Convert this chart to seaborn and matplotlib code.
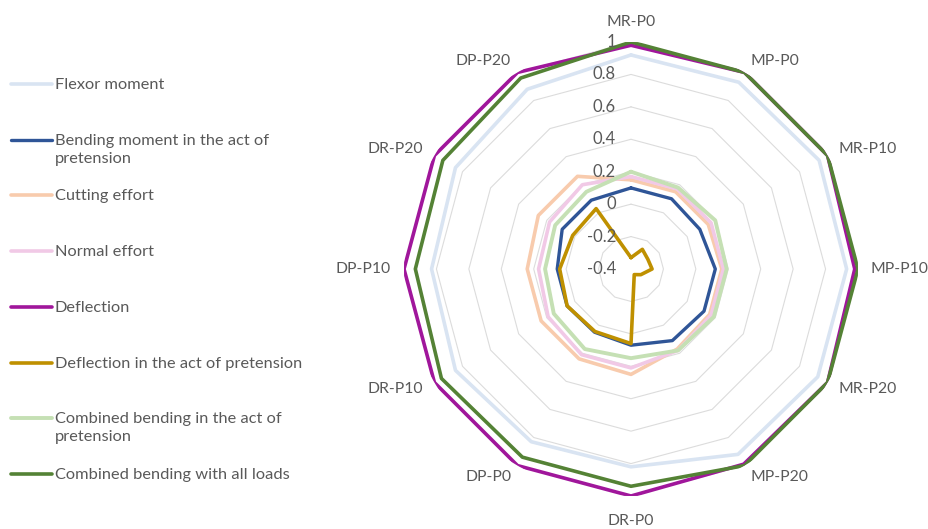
import numpy as np
import pandas as pd
import seaborn as sns
import matplotlib
matplotlib.use("Agg")
import matplotlib.pyplot as plt
from matplotlib.transforms import offset_copy

# Load-case spokes, clockwise from the top
categories = ["MR-P0", "MP-P0", "MR-P10", "MP-P10", "MR-P20", "MP-P20",
              "DR-P0", "DP-P0", "DR-P10", "DP-P10", "DR-P20", "DP-P20"]

# Normalised results per load case
flexor_moment = [0.92, 0.93, 0.94, 0.93, 0.93, 0.92, 0.82, 0.83, 0.85, 0.83, 0.85, 0.88]
bending_pretension = [0.10, 0.10, 0.09, 0.12, 0.12, 0.11, 0.07, 0.05, 0.055, 0.055, 0.09, 0.09]
cutting_effort = [0.15, 0.15, 0.15, 0.16, 0.16, 0.17, 0.25, 0.24, 0.24, 0.24, 0.26, 0.26]
normal_effort = [0.17, 0.17, 0.17, 0.17, 0.17, 0.18, 0.21, 0.21, 0.19, 0.17, 0.18, 0.20]
deflection = [0.98, 1.0, 1.0, 0.98, 1.0, 0.99, 1.0, 1.0, 1.0, 1.0, 1.0, 1.0]
deflection_pretension = [-0.33, -0.26, -0.28, -0.27, -0.33, -0.36, 0.06, 0.045, 0.055, 0.04, 0.015, 0.03]
combined_pretension = [0.20, 0.18, 0.20, 0.19, 0.19, 0.18, 0.15, 0.17, 0.15, 0.13, 0.14, 0.15]
combined_all = [1.0, 1.0, 1.0, 1.0, 1.0, 1.0, 0.94, 0.94, 0.95, 0.93, 0.94, 0.96]

radial_ticks = [-0.4, -0.2, 0, 0.2, 0.4, 0.6, 0.8, 1]
radial_labels = ["-0.4", "-0.2", "0", "0.2", "0.4", "0.6", "0.8", "1"]

series = [
    ("Flexor moment", flexor_moment, "#d9e4f2", 2.6),
    ("Bending moment in the act of\npretension", bending_pretension, "#2f5597", 2.4),
    ("Cutting effort", cutting_effort, "#f8cbad", 2.6),
    ("Normal effort", normal_effort, "#f1c9e6", 2.6),
    ("Deflection", deflection, "#a0169b", 2.6),
    ("Deflection in the act of pretension", deflection_pretension, "#bf9000", 2.6),
    ("Combined bending in the act of\npretension", combined_pretension, "#c5e0b4", 2.8),
    ("Combined bending with all loads", combined_all, "#548235", 2.6),
]

sns.set_style("white")
plt.rcParams["font.family"] = ["Lato", "DejaVu Sans"]
text_color = "#595959"

fig = plt.figure(figsize=(9.29, 5.29), dpi=100)
cx, cy, R = 631, 269, 227
W, H = 929, 529
ax = fig.add_axes([(cx - R) / W, (H - cy - R) / H, 2 * R / W, 2 * R / H], projection="polar")
ax.set_theta_zero_location("N")
ax.set_theta_direction(-1)
ax.set_ylim(-0.4, 1)
ax.grid(False)
ax.spines["polar"].set_visible(False)
ax.set_xticks([])
ax.set_yticks([])
ax.patch.set_alpha(0)

n = len(categories)
theta = np.arange(n) * 2 * np.pi / n
theta_closed = np.append(theta, theta[0])

# Polygonal value grid
for level in radial_ticks[1:]:
    ax.plot(theta_closed, [level] * (n + 1), color="#dcdcdc", lw=0.8, zorder=1)

# Series outlines
for name, vals, color, lw in series:
    df = pd.DataFrame({"theta": theta_closed, "value": list(vals) + [vals[0]]})
    sns.lineplot(data=df, x="theta", y="value", sort=False, estimator=None,
                 color=color, lw=lw, ax=ax, zorder=3)
ax.set_xlabel("")
ax.set_ylabel("")

# Radial value labels, just left of the top spoke
lab_tr = offset_copy(ax.transData, fig=fig, x=-15, y=0, units="dots")
for v, s in zip(radial_ticks, radial_labels):
    ax.text(0, v, s, transform=lab_tr, ha="right", va="center",
            fontsize=12, color=text_color, zorder=5)

# Category labels around the outside
for t, name in zip(theta, categories):
    sx, cyy = np.sin(t), np.cos(t)
    if abs(sx) < 0.1:
        ha = "center"
        va = "bottom" if cyy > 0 else "top"
        r = 1.08 if cyy > 0 else 1.11
    else:
        ha = "left" if sx > 0 else "right"
        va = "center"
        r = 1.08
    ax.text(t, r, name, ha=ha, va=va, fontsize=11.3, color=text_color,
            clip_on=False)
ax.set_ylim(-0.4, 1)

# Legend down the left side
legend_y = [84, 140, 195, 251, 307, 363, 418, 474]
for (name, vals, color, lw), y in zip(series, legend_y):
    yf = 1 - y / H
    fig.add_artist(plt.Line2D([11 / W, 52 / W], [yf, yf], color=color, lw=lw,
                              transform=fig.transFigure))
    fig.text(55 / W, 1 - (y - 6) / H, name, ha="left", va="top",
             fontsize=11.8, color=text_color, linespacing=1.32)

fig.savefig("out.png", dpi=100)
